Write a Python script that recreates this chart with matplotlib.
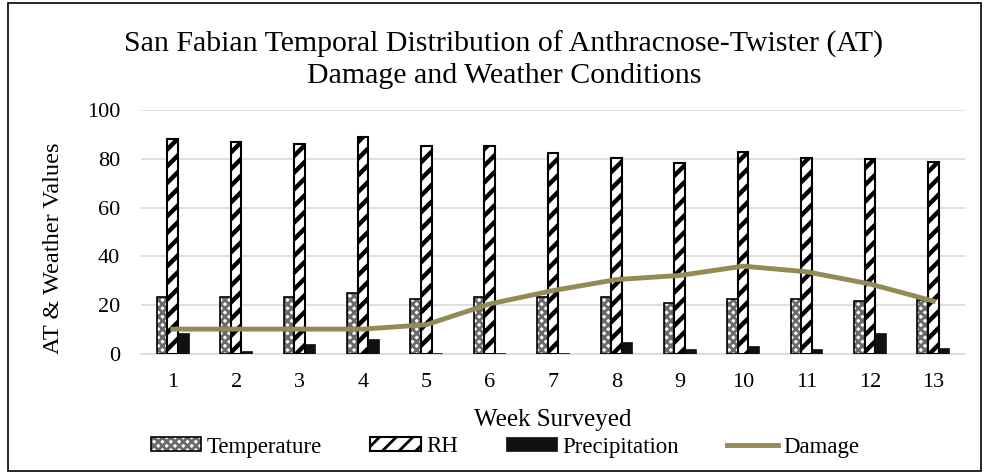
import numpy as np
import matplotlib.pyplot as plt
import matplotlib as mpl
from matplotlib.patches import Patch
from matplotlib.legend_handler import HandlerTuple

plt.rcParams['font.family'] = ['Liberation Serif', 'DejaVu Serif']
mpl.rcParams['hatch.linewidth'] = 2.0

# Data
weeks = [str(i) for i in range(1, 14)]
temperature = [23.5, 23.5, 23.2, 25.0, 22.4, 23.2, 23.2, 23.2, 20.8, 22.4, 22.4, 21.7, 22.0]
rh = [88.3, 87.0, 86.0, 89.0, 85.2, 85.2, 82.3, 80.2, 78.4, 82.8, 80.5, 79.8, 78.6]
precipitation = [8.7, 1.4, 4.0, 6.1, 0.5, 0.5, 0.5, 5.0, 2.0, 3.4, 2.2, 8.6, 2.3]
damage = [10.2, 10.2, 10.2, 10.2, 12.0, 20.5, 26.0, 30.5, 32.2, 36.0, 33.7, 28.7, 21.7]

W, H = 987, 474
fig = plt.figure(figsize=(W / 100, H / 100), dpi=100)
ax = fig.add_axes([141 / W, 1 - 354 / H, 824 / W, 244 / H])

x = np.arange(len(weeks))
w = 0.167


def set_hlw(patches, lw):
    for p in patches:
        try:
            p.set_hatch_linewidth(lw)
        except AttributeError:
            pass


# temperature: grey lattice with white dots, black outline on top
t_fill = ax.bar(x - w, temperature, w, color='white', edgecolor='#6a6a6a',
                hatch='xxxx', linewidth=0, zorder=3)
set_hlw(t_fill, 2.0)
t_edge = ax.bar(x - w, temperature, w, fill=False, edgecolor='black',
                linewidth=1.2, zorder=3)
h_rh = ax.bar(x, rh, w, color='white', edgecolor='black', hatch='//',
              linewidth=1.5, zorder=3)
set_hlw(h_rh, 3.2)
h_p = ax.bar(x + w, precipitation, w, color='#111111', edgecolor='#111111',
             linewidth=0.5, zorder=3)
h_d, = ax.plot(x, damage, color='#948A54', linewidth=3.5, zorder=4)

ax.set_xlim(-0.5, len(weeks) - 0.5)
ax.set_ylim(0, 100)
ax.set_yticks(range(0, 101, 20))
ax.set_xticks(x)
ax.set_xticklabels(weeks)
ax.tick_params(axis='both', length=0, labelsize=16)
ax.tick_params(axis='y', pad=15)
ax.tick_params(axis='x', pad=14)
ax.grid(axis='y', color='#d9d9d9', linewidth=1.2, zorder=0)
for s in ['top', 'right', 'left']:
    ax.spines[s].set_visible(False)
ax.spines['bottom'].set_color('#d9d9d9')
ax.spines['bottom'].set_linewidth(1.2)

ax.set_ylabel('AT & Weather Values', fontsize=17.5, va='baseline')
ax.yaxis.set_label_coords((59 - 141) / 824, (354 - 248) / 244)
ax.set_xlabel('Week Surveyed', fontsize=18, va='baseline')
ax.xaxis.set_label_coords((553 - 141) / 824, (354 - 426) / 244)

fig.text(504 / W, 1 - 52 / H, 'San Fabian Temporal Distribution of Anthracnose-Twister (AT)',
         ha='center', va='baseline', fontsize=21.5)
fig.text(504 / W, 1 - 83 / H, 'Damage and Weather Conditions',
         ha='center', va='baseline', fontsize=21.5)

t_leg = Patch(facecolor='white', edgecolor='#6a6a6a', hatch='xxxx', linewidth=0)
t_leg2 = Patch(fill=False, edgecolor='black', linewidth=1.2)
rh_leg = Patch(facecolor='white', edgecolor='black', hatch='//', linewidth=1.5)
set_hlw([t_leg], 2.0)
set_hlw([rh_leg], 3.2)
fig.legend([(t_leg, t_leg2), rh_leg, h_p, h_d],
           ['Temperature', 'RH', 'Precipitation', 'Damage'],
           handler_map={tuple: HandlerTuple(ndivide=1, pad=0)},
           loc='center', bbox_to_anchor=(505 / W, 1 - 447 / H), ncol=4, frameon=False,
           fontsize=16.5, handlelength=2.2, handleheight=0.55, handletextpad=0.25,
           columnspacing=2.1, borderaxespad=0, borderpad=0)

fig.add_artist(plt.Rectangle((8 / W, 3 / H), (W - 14) / W, (H - 6) / H,
                             transform=fig.transFigure, fill=False,
                             edgecolor='black', linewidth=1.2))

fig.savefig('out.png', dpi=100)
